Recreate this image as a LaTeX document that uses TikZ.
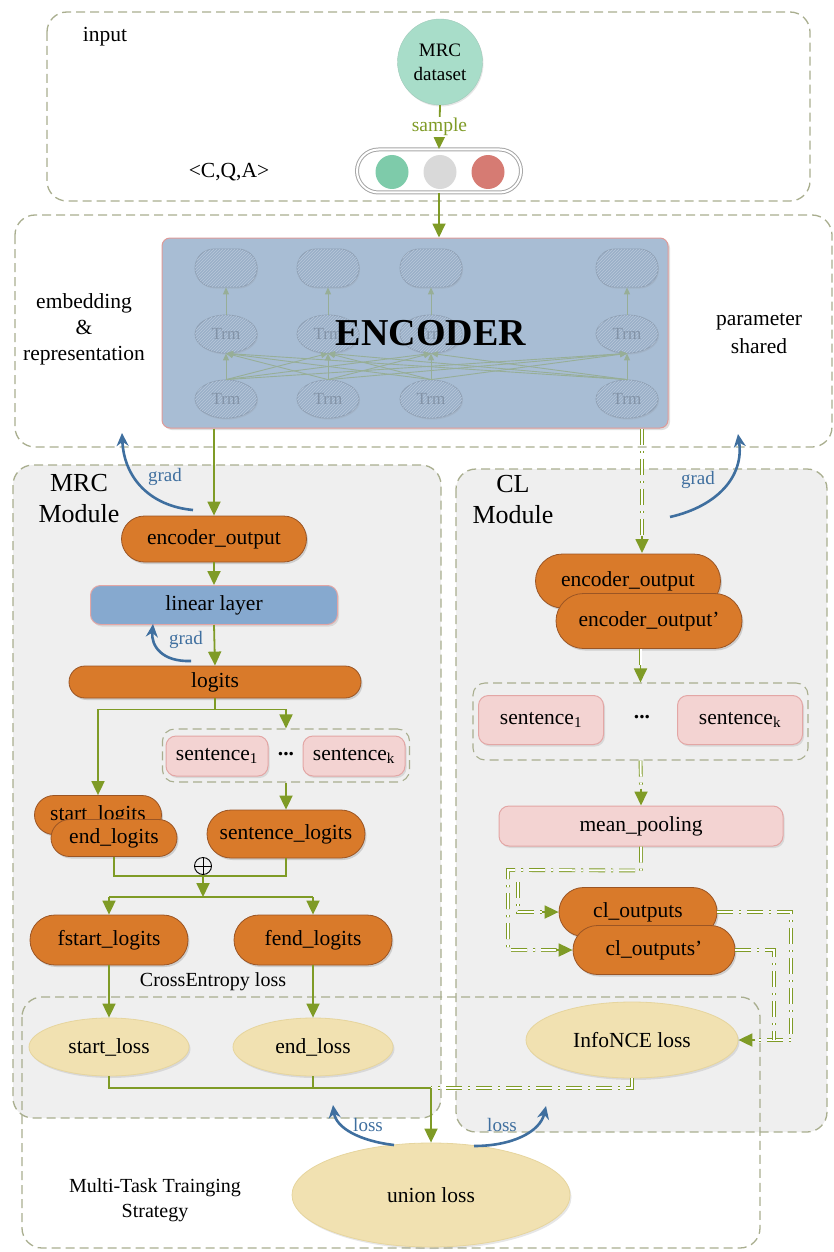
\documentclass[tikz,border=0pt]{standalone}
\usepackage{fontspec}
\setmainfont{Liberation Serif}
\usetikzlibrary{arrows.meta,calc,patterns,shadows,shapes.geometric,shapes.misc}

\definecolor{boxline}{HTML}{A9AE8F}
\definecolor{flowgreen}{HTML}{7F9B26}
\definecolor{gradblue}{HTML}{3F6F9F}
\definecolor{orangefill}{HTML}{D97A2A}
\definecolor{orangeline}{HTML}{9B5524}
\definecolor{encfill}{HTML}{A8BDD4}
\definecolor{encline}{HTML}{DE9A98}
\definecolor{linfill}{HTML}{86A9CF}
\definecolor{pinkfill}{HTML}{F3D3D2}
\definecolor{pinkline}{HTML}{E3A6A5}
\definecolor{lossfill}{HTML}{F1E1B1}
\definecolor{lossline}{HTML}{E6D59E}
\definecolor{tealfill}{HTML}{A8DDC9}
\definecolor{modfill}{HTML}{EFEFEF}
\definecolor{trmfill}{HTML}{9AAFC8}
\definecolor{trmhatch}{HTML}{B9C8DA}
\definecolor{trmline}{HTML}{8E9FB3}
\definecolor{trmtext}{HTML}{8393A7}
\definecolor{trmarrow}{HTML}{97AE97}
\definecolor{ctxdot}{HTML}{7ECBAA}
\definecolor{qdotgray}{HTML}{D9D9D9}
\definecolor{ansdot}{HTML}{D67B73}

\newcommand\mainsz{\fontsize{21.5}{26}\selectfont}
\newcommand\smallsz{\fontsize{19}{22}\selectfont}
\newcommand\modsz{\fontsize{26}{31}\selectfont}

\tikzset{
  regionbox/.style={draw=boxline, line width=1.3pt, dash pattern=on 9pt off 5pt, rounded corners=20pt},
  groupbox/.style={rectangle, draw=boxline, line width=1.1pt, dash pattern=on 9pt off 5pt, rounded corners=12pt, inner sep=0pt},
  outpill/.style={rounded rectangle, draw=orangeline, fill=orangefill, line width=0.8pt, inner sep=0pt,
    drop shadow={opacity=0.3, shadow xshift=1.5pt, shadow yshift=-2pt}},
  softbox/.style={rectangle, rounded corners=10pt, draw=pinkline, fill=pinkfill, line width=1pt, inner sep=0pt,
    drop shadow={opacity=0.2, shadow xshift=1.5pt, shadow yshift=-2pt}},
  lossnode/.style={ellipse, draw=lossline, fill=lossfill, line width=0.8pt, inner sep=0pt,
    drop shadow={opacity=0.2, shadow xshift=1.5pt, shadow yshift=-2pt}},
  trmnode/.style={ellipse, draw=trmline, line width=0.8pt, fill=trmfill, postaction={pattern=north east lines, pattern color=trmhatch},
    minimum width=62, minimum height=38, inner sep=0pt, text=trmtext, font=\fontsize{17}{19}\selectfont,
    drop shadow={opacity=0.15, shadow xshift=1pt, shadow yshift=-1.5pt}},
  trmtop/.style={trmnode, rounded rectangle},
  trmlink/.style={draw=trmarrow, line width=0.9pt, -{Triangle[width=6pt,length=7pt]}},
  flow/.style={draw=flowgreen, line width=1.8pt, -{Triangle[width=13pt,length=14pt]}},
  flowline/.style={draw=flowgreen, line width=1.8pt},
  dflow/.style={draw=flowgreen, line width=0.9pt, double=white, double distance=2pt,
    dash pattern=on 16pt off 6pt on 2pt off 6pt},
  gradarrow/.style={draw=gradblue, line width=2.6pt, -{Stealth[length=13pt,width=12pt]}},
  gradlabel/.style={text=gradblue, font=\smallsz},
  seqdot/.style={ellipse, minimum width=33, minimum height=34, inner sep=0pt},
}

\begin{document}
\begin{tikzpicture}[x=1pt, y=-1pt, font=\mainsz]
  \useasboundingbox (0,0) rectangle (833,1252);

  %%%%% regions %%%%%
  \draw[regionbox, fill=modfill] (13,465) rectangle (441,1118);
  \draw[regionbox, fill=modfill] (456,469) rectangle (827,1132);
  \draw[regionbox] (22,997) rectangle (760,1248);
  \draw[regionbox] (47,12) rectangle (810,201);
  \draw[regionbox] (15,215) rectangle (832,447);

  %%%%% input %%%%%
  \node at (105,37) {input};
  \node[ellipse, fill=tealfill, draw=tealfill!80!gray, minimum width=85, minimum height=86, inner sep=0pt,
    align=center, font=\fontsize{19}{24}\selectfont,
    drop shadow={opacity=0.2, shadow xshift=1pt, shadow yshift=-1.5pt}] (dataset) at (440,62) {MRC\\dataset};
  \node[rounded rectangle, draw=gray!70, double=white, double distance=2pt, line width=1pt,
    minimum width=164, minimum height=43, inner sep=0pt] (sampbar) at (439,171) {};
  \node[seqdot, fill=ctxdot] (cdot) at (392,172) {};
  \node[seqdot, fill=qdotgray] (qdot) at (440,172) {};
  \node[seqdot, fill=ansdot] (adot) at (488,172) {};
  \node at (229,172) {<C,Q,A>};
  \draw[flow] (dataset.south) -- (sampbar.north)
    node[midway, fill=white, inner sep=1pt, text=flowgreen, font=\fontsize{19.5}{22}\selectfont] {sample};

  %%%%% encoder %%%%%
  \node[rectangle, rounded corners=8pt, draw=encline, fill=encfill, line width=1pt,
    minimum width=506, minimum height=190, inner sep=0pt,
    drop shadow={opacity=0.25, shadow xshift=2pt, shadow yshift=-2pt}] (encbox) at (415,333) {};
  \foreach \i/\x in {1/226,2/328,3/431,4/627}{
    \node[trmtop] (t\i) at (\x,268) {};
    \node[trmnode] (m\i) at (\x,334) {Trm};
    \node[trmnode] (b\i) at (\x,399) {Trm};
  }
  \foreach \i in {1,...,4}{
    \draw[trmlink] (m\i.north) -- (t\i.south);
    \foreach \j in {1,...,4}
      \draw[trmlink] (b\i.north) -- (m\j.south);
  }
  \node[font=\fontsize{38}{40}\selectfont\bfseries] (enclabel) at (431,333) {ENCODER};
  \draw[flow] (sampbar.south) -- (sampbar.south |- encbox.north);

  \node[align=center, font=\fontsize{21.5}{26}\selectfont] at (84,329) {embedding\\\&\\representation};
  \node[align=center, font=\fontsize{21.5}{28}\selectfont] at (759,334) {parameter\\shared};

  %%%%% MRC module %%%%%
  \node[align=center, font=\modsz] at (79,499) {MRC\\Module};
  \node[outpill, minimum width=185, minimum height=46] (mencout) at (214,539) {encoder\_output};
  \node[rectangle, rounded corners=10pt, draw=pinkline, fill=linfill, line width=1pt, inner sep=0pt,
    minimum width=247, minimum height=39,
    drop shadow={opacity=0.2, shadow xshift=1.5pt, shadow yshift=-2pt}] (linear) at (214,605) {linear layer};
  \node[outpill, minimum width=292, minimum height=32] (logits) at (215,682) {logits};

  \node[groupbox, minimum width=247, minimum height=53] (sgroup) at (286,755.5) {};
  \node[softbox, minimum width=102, minimum height=40] (msent1) at (217,756) {sentence\textsubscript{1}};
  \node[font=\mainsz\bfseries] (mdots) at (286,754) {...};
  \node[softbox, minimum width=102, minimum height=40] (msentk) at (354,756) {sentence\textsubscript{k}};

  \node[outpill, minimum width=127, minimum height=39] (startl) at (98,815) {start\_logits};
  \node[outpill, minimum width=126, minimum height=37] (endl) at (114,838) {end\_logits};
  \node[outpill, minimum width=158, minimum height=48] (sentlog) at (286,834) {sentence\_logits};
  \node[circle, draw, line width=0.9pt, minimum size=17pt, inner sep=0pt] (oplus) at (203,866) {};
  \draw[line width=0.9pt] (oplus.north) -- (oplus.south) (oplus.west) -- (oplus.east);
  \node[outpill, minimum width=158, minimum height=50] (fstartl) at (109,940) {fstart\_logits};
  \node[outpill, minimum width=158, minimum height=50] (fendl) at (313,940) {fend\_logits};
  \node[font=\fontsize{20}{22}\selectfont] (celabel) at (213,982) {CrossEntropy loss};

  \node[lossnode, minimum width=160, minimum height=58] (startloss) at (109,1047) {start\_loss};
  \node[lossnode, minimum width=160, minimum height=58] (endloss) at (313,1047) {end\_loss};

  \draw[flow] (mencout.north |- encbox.south) -- (mencout.north);
  \draw[flow] (mencout.south) -- (linear.north);
  \draw[flow] (linear.south) -- (logits.north);
  \draw[flow] (logits.south) -- ++(0,11) -| (startl.north);
  \draw[flow] (logits.south) -- ++(0,11) -| (sgroup.north);
  \draw[flow] (sgroup.south) -- (sentlog.north);
  \coordinate (merge) at (203,876);
  \coordinate (fsplit) at (203,897);
  \draw[flowline] (endl.south) |- (merge) -| (sentlog.south);
  \draw[flow] (merge) -- (fsplit);
  \draw[flowline] (fstartl.north |- fsplit) -- (fendl.north |- fsplit);
  \draw[flow] (fstartl.north |- fsplit) -- (fstartl.north);
  \draw[flow] (fendl.north |- fsplit) -- (fendl.north);
  \draw[flow] (fstartl.south) -- (startloss.north);
  \draw[flow] (fendl.south) -- (endloss.north);

  \draw[gradarrow] (193,510) .. controls (150,506) and (124,478) .. (122,433);
  \node[gradlabel] at (165,477) {grad};
  \draw[gradarrow] (191,661) .. controls (162,662) and (151,646) .. (153,624);
  \node[gradlabel] at (186,640) {grad};

  %%%%% CL module %%%%%
  \node[align=center, font=\modsz] at (513,500) {CL\\Module};
  \node[outpill, minimum width=185, minimum height=54] (cencout) at (628,581) {encoder\_output};
  \node[outpill, minimum width=186, minimum height=55] (cencout2) at (649,621) {encoder\_output'};
  \node[groupbox, minimum width=335, minimum height=77] (cgroup) at (640.5,721.5) {};
  \node[softbox, minimum width=125, minimum height=49] (csent1) at (541,720) {sentence\textsubscript{1}};
  \node[font=\mainsz\bfseries] (cdots) at (642,717) {...};
  \node[softbox, minimum width=125, minimum height=49] (csentk) at (740,720) {sentence\textsubscript{k}};
  \node[softbox, minimum width=284, minimum height=40] (meanpool) at (641,826) {mean\_pooling};
  \node[outpill, minimum width=158, minimum height=49] (clout) at (638,912) {cl\_outputs};
  \node[outpill, minimum width=162, minimum height=49] (clout2) at (654,950) {cl\_outputs'};

  \coordinate (clin) at (642,553);
  \draw[dflow] (clin |- encbox.south) -- ($(clin)+(0,-16)$);
  \draw[flow] ($(clin)+(0,-17)$) -- (clin);
  \draw[dflow] (cgroup.north |- cencout2.south) -- ($(cgroup.north)+(0,-16)$);
  \draw[flow] ($(cgroup.north)+(0,-17)$) -- (cgroup.north);
  \draw[dflow] (cgroup.south) -- ($(meanpool.north)+(0,-16)$);
  \draw[flow] ($(meanpool.north)+(0,-17)$) -- (meanpool.north);
  \draw[dflow] (meanpool.south) -- ++(0,24) -- (508,870) -- (508,950) -- ($(clout2.west)+(-16,0)$);
  \draw[flow] ($(clout2.west)+(-17,0)$) -- (clout2.west);
  \draw[dflow] (518,882) -- (518,912) -- ($(clout.west)+(-16,0)$);
  \draw[flow] ($(clout.west)+(-17,0)$) -- (clout.west);

  \draw[gradarrow] (670,517) .. controls (718,506) and (744,476) .. (738,434);
  \node[gradlabel] at (698,480) {grad};

  %%%%% losses %%%%%
  \node[lossnode, minimum width=212, minimum height=76] (infonce) at (632,1040) {InfoNCE loss};
  \node[lossnode, minimum width=278, minimum height=104] (unionloss) at (431,1195) {union loss};
  \node[align=center, font=\fontsize{20}{25}\selectfont] at (155,1200) {Multi-Task Trainging\\Strategy};

  \draw[dflow] (clout.east) -- (791,912) -- (791,1040) -- ($(infonce.east)+(16,0)$);
  \draw[dflow] (clout2.east) -- (774,950) -- (774,1040);
  \draw[flow] ($(infonce.east)+(17,0)$) -- (infonce.east);

  \coordinate (lossjoin) at (431,1088);
  \draw[dflow] (infonce.south) |- (lossjoin);
  \draw[flowline] (startloss.south) |- (lossjoin);
  \draw[flowline] (endloss.south) -- (endloss.south |- lossjoin);
  \draw[flow] (lossjoin) -- (unionloss.north);

  \draw[gradarrow] (394,1145) .. controls (360,1141) and (336,1128) .. (333,1105);
  \node[gradlabel] at (368,1125) {loss};
  \draw[gradarrow] (474,1146) .. controls (512,1146) and (540,1132) .. (546,1106);
  \node[gradlabel] at (502,1125) {loss};
\end{tikzpicture}
\end{document}
